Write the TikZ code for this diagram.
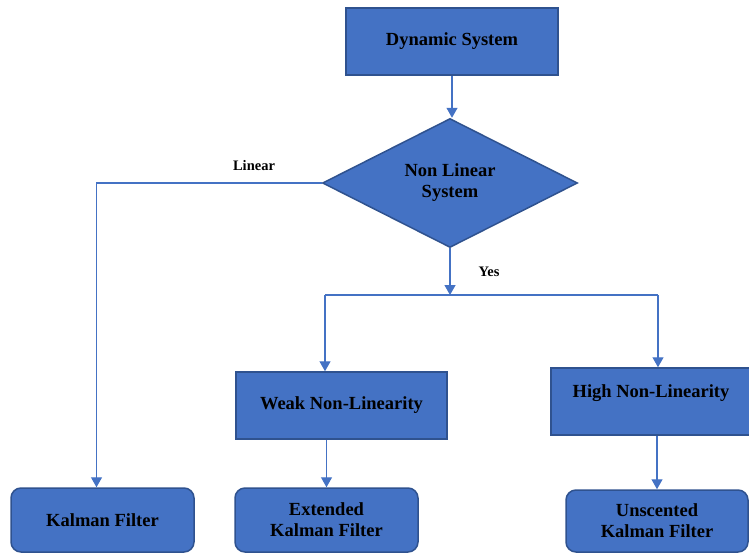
\documentclass[tikz,border=0pt]{standalone}
\usepackage{fontspec}
\setmainfont{Liberation Serif}
\usetikzlibrary{shapes.geometric,arrows.meta}
\definecolor{boxfill}{HTML}{4472C4}
\definecolor{boxline}{HTML}{2F528F}
\definecolor{linkcol}{HTML}{4472C4}
\begin{document}
\begin{tikzpicture}[x=1pt,y=-1pt,
  every node/.style={font=\fontsize{18.5}{21}\selectfont\bfseries, text=black},
  sqbox/.style={draw=boxline, fill=boxfill, line width=1.5pt, rectangle, inner sep=0pt, align=center},
  rbox/.style={sqbox, rounded corners=10pt},
  decision/.style={draw=boxline, fill=boxfill, line width=1.5pt, diamond, inner sep=0pt, align=center, minimum width=255pt, minimum height=129pt, aspect=1.98},
  link/.style={draw=linkcol, line width=1.3pt},
  arrow/.style={link, -{Triangle[length=10pt,width=11pt]}},
  lbl/.style={font=\fontsize{14.5}{16}\selectfont\bfseries}
]
\useasboundingbox (0,0) rectangle (749,554);

\node[sqbox, minimum width=212pt, minimum height=67pt] (dyn) at (452,41.5) {\raisebox{-2pt}{Dynamic System}};
\node[decision] (dia) at (450,183) {Non Linear\\System};
\node[sqbox, minimum width=211pt, minimum height=67pt] (wk) at (341.5,405.5) {\raisebox{-2pt}{Weak Non-Linearity}};
\node[sqbox, minimum width=200pt, minimum height=67pt] (hi) at (651,401.5) {High Non-Linearity\\\mbox{}};
\node[rbox, minimum width=183pt, minimum height=64pt] (kf) at (102.5,520) {\raisebox{-2pt}{Kalman Filter}};
\node[rbox, minimum width=183pt, minimum height=64pt] (ekf) at (326.5,520) {Extended\\Kalman Filter};
\node[rbox, minimum width=182pt, minimum height=62pt] (ukf) at (657,521) {Unscented\\Kalman Filter};

\node[lbl] (lin) at (254,166) {Linear};
\node[lbl] (yes) at (489,272) {Yes};

\coordinate (bl) at (325,295);
\coordinate (br) at (658,295);

\draw[arrow] (dyn.south) -- (dyn.south |- dia.north);
\draw[arrow] (dia.west) -| ([xshift=-6pt]kf.north);
\draw[arrow] (dia.south) -- (dia.south |- bl);
\draw[link] (bl) -- (br);
\draw[arrow] (bl) -- (bl |- wk.north);
\draw[arrow] (br) -- (br |- hi.north);
\draw[arrow] (wk.south -| ekf.north) -- (ekf.north);
\draw[arrow] (ukf.north |- hi.south) -- (ukf.north);
\end{tikzpicture}
\end{document}
